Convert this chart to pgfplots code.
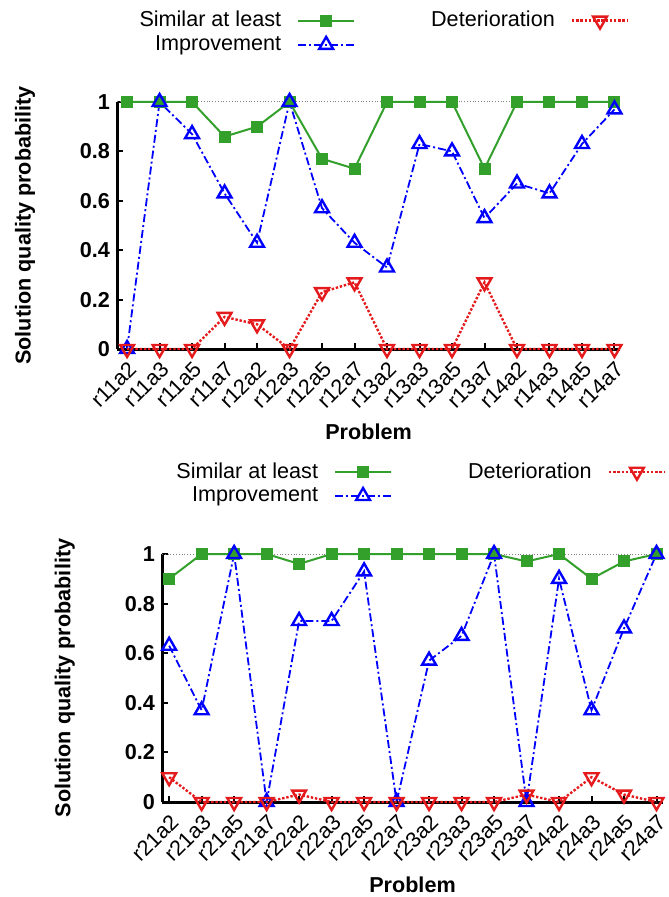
\documentclass[border=0pt]{standalone}
\usepackage{fontspec}
\setmainfont{Liberation Sans}
\usepackage{pgfplots}
\pgfplotsset{compat=1.18}
\definecolor{simgreen}{RGB}{51,160,44}
\definecolor{impblue}{RGB}{0,0,255}
\definecolor{detred}{RGB}{228,26,28}

\newcommand{\ff}{\fontsize{10.8}{13}\selectfont}

\pgfplotsset{
  qualax/.style={
    scale only axis, clip=false,
    ymin=0, ymax=1, ytick={0,0.2,0.4,0.6,0.8,1},
    xtick={0,...,15},
    axis x line*=bottom, axis y line*=left,
    axis line style={line width=1.5pt, -},
    tick align=inside, major tick length=3pt,
    tick style={black, line width=1pt},
    /pgf/number format/assume math mode=true,
    yticklabel style={font=\ff\bfseries},
    xticklabel style={font=\ff, yshift=-2.5pt, rotate=45, anchor=north east, inner sep=2pt},
    label style={font=\ff\bfseries},
    xlabel={Problem},
    ylabel={Solution quality probability},
    xlabel style={at={(axis description cs:0.5,-0.335)}, anchor=center},
    extra y ticks={1}, extra y tick labels={},
    extra y tick style={grid=major, major grid style={gray, densely dotted, line width=0.5pt}, major tick length=0pt},
    legend columns=2, legend plot pos=right,
    legend style={draw=none, fill=none, inner sep=0pt, font=\ff,
      cells={anchor=east}, row sep=-1pt,
      /tikz/column 2/.style={column sep=36pt},
      /tikz/column 1/.style={column sep=6pt},
      /tikz/column 3/.style={column sep=6pt}},
    legend image code/.code={\draw[mark repeat=2, mark phase=2] plot coordinates {(0pt,0pt) (14pt,0pt) (28pt,0pt)};},
  },
  simst/.style={simgreen, line width=1pt, mark=square*, mark size=2.5pt, mark options={solid}},
  impst/.style={impblue, line width=0.9pt, dash pattern=on 4pt off 1.5pt on 1pt off 1.5pt, mark=triangle, mark size=4pt, mark options={solid, line width=1.2pt}},
  detst/.style={detred, line width=1.2pt, dash pattern=on 1.2pt off 0.9pt, mark=triangle, mark size=4pt, mark options={solid, rotate=180, line width=1.2pt}},
}

\begin{document}
\begin{tikzpicture}
\useasboundingbox (0,0) rectangle (334pt,-448.5pt);

% top panel
\begin{axis}[qualax,
  at={(58.5pt,-174.5pt)}, anchor=south west,
  width=251.5pt, height=123.5pt,
  xmin=-0.31, xmax=15.17,
  xticklabels={r11a2,r11a3,r11a5,r11a7,r12a2,r12a3,r12a5,r12a7,r13a2,r13a3,r13a5,r13a7,r14a2,r14a3,r14a5,r14a7},
  ylabel style={at={(axis description cs:-0.183,0.5)}, anchor=center},
  legend style={at={(axis description cs:0.036,1.385)}, anchor=north west},
]
\addlegendimage{simst}\addlegendentry{Similar at least}
\addlegendimage{detst}\addlegendentry{Deterioration}
\addlegendimage{impst}\addlegendentry{Improvement}
\addplot[simst, forget plot] coordinates {(0,1)(1,1)(2,1)(3,0.86)(4,0.9)(5,1)(6,0.77)(7,0.73)(8,1)(9,1)(10,1)(11,0.73)(12,1)(13,1)(14,1)(15,1)};
\addplot[impst, forget plot] coordinates {(0,0)(1,1)(2,0.87)(3,0.63)(4,0.43)(5,1)(6,0.57)(7,0.43)(8,0.33)(9,0.83)(10,0.8)(11,0.53)(12,0.67)(13,0.63)(14,0.83)(15,0.97)};
\addplot[detst, forget plot] coordinates {(0,0)(1,0)(2,0)(3,0.13)(4,0.1)(5,0)(6,0.23)(7,0.27)(8,0)(9,0)(10,0)(11,0.27)(12,0)(13,0)(14,0)(15,0)};
\end{axis}

% bottom panel
\begin{axis}[qualax,
  at={(81pt,-401pt)}, anchor=south west,
  width=250.5pt, height=124pt,
  xmin=-0.22, xmax=15.2,
  xticklabels={r21a2,r21a3,r21a5,r21a7,r22a2,r22a3,r22a5,r22a7,r23a2,r23a3,r23a5,r23a7,r24a2,r24a3,r24a5,r24a7},
  ylabel style={at={(axis description cs:-0.194,0.5)}, anchor=center},
  legend style={at={(axis description cs:0.02,1.387)}, anchor=north west},
]
\addlegendimage{simst}\addlegendentry{Similar at least}
\addlegendimage{detst}\addlegendentry{Deterioration}
\addlegendimage{impst}\addlegendentry{Improvement}
\addplot[simst, forget plot] coordinates {(0,0.9)(1,1)(2,1)(3,1)(4,0.96)(5,1)(6,1)(7,1)(8,1)(9,1)(10,1)(11,0.97)(12,1)(13,0.9)(14,0.97)(15,1)};
\addplot[impst, forget plot] coordinates {(0,0.63)(1,0.37)(2,1)(3,0)(4,0.73)(5,0.73)(6,0.93)(7,0)(8,0.57)(9,0.67)(10,1)(11,0)(12,0.9)(13,0.37)(14,0.7)(15,1)};
\addplot[detst, forget plot] coordinates {(0,0.1)(1,0)(2,0)(3,0)(4,0.03)(5,0)(6,0)(7,0)(8,0)(9,0)(10,0)(11,0.03)(12,0)(13,0.1)(14,0.03)(15,0)};
\end{axis}
\end{tikzpicture}
\end{document}
